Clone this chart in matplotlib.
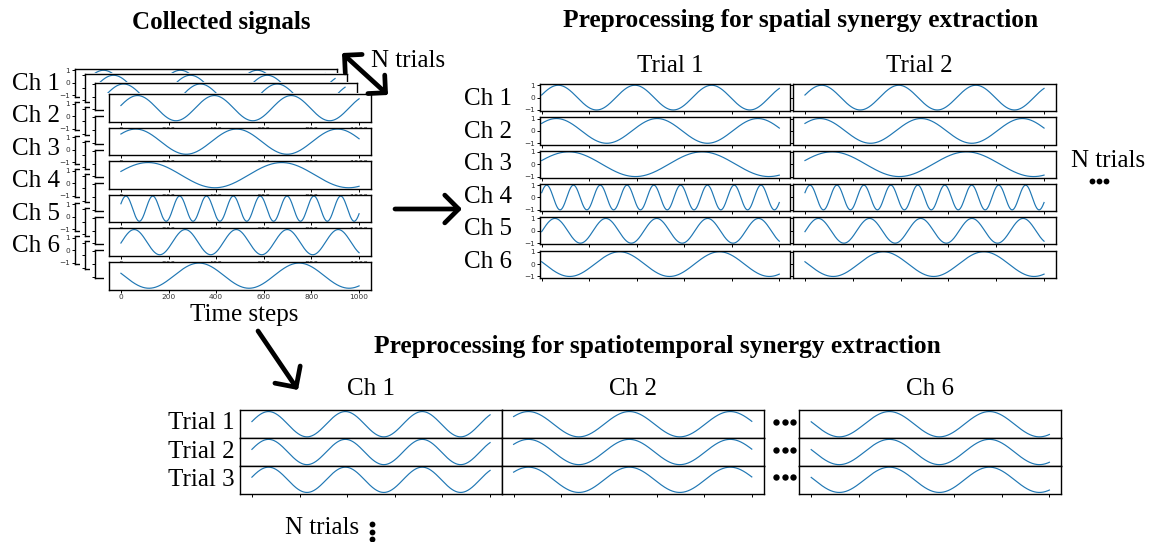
import numpy as np
import matplotlib

matplotlib.use("Agg")
import matplotlib.pyplot as plt
from matplotlib.lines import Line2D
from matplotlib.patches import FancyArrowPatch, Rectangle

W, H = 1153, 542
SERIF = "Liberation Serif"
BLUE = "#1f77b4"

# synthetic recordings: one sine per channel, 1000 time steps
CHANNELS = ["Ch 1", "Ch 2", "Ch 3", "Ch 4", "Ch 5", "Ch 6"]
CYCLES = [3.1, 2.36, 1.78, 8.87, 4.67, 2.38]  # periods per 1000 steps
PHASES = [0.21, 0.65, 0.3, 0.4, -0.07, 2.95]  # rad at step 0
STEPS = np.arange(0, 1001)
TIME_TICKS = [0, 200, 400, 600, 800, 1000]
AMP_TICKS = [-1, 0, 1]

TRIALS = ["Trial 1", "Trial 2"]
TRIAL_ROWS = ["Trial 1", "Trial 2", "Trial 3"]
CONCAT_CHANNELS = [0, 1, 5]  # Ch 1, Ch 2, ..., Ch 6


def signal(ch):
    return np.sin(2 * np.pi * CYCLES[ch] * STEPS / 1000 + PHASES[ch])


fig = plt.figure(figsize=(W / 100, H / 100), dpi=100)


def rect(left, top, width, height):
    return [left / W, 1 - (top + height) / H, width / W, height / H]


def fx(x):
    return x / W


def fy(y):
    return 1 - y / H


def signal_axes(box, ch, z, xlim=(-50, 1050), ylabels=False, xlabels=False, yticks=True):
    ax = fig.add_axes(rect(*box))
    ax.set_zorder(z)
    ax.plot(STEPS, signal(ch), color=BLUE, lw=0.85)
    ax.set_xlim(*xlim)
    ax.set_ylim(-1.1, 1.1)
    ax.set_xticks(TIME_TICKS)
    ax.set_yticks(AMP_TICKS if yticks else [])
    ax.tick_params(length=2.5, width=0.7, labelsize=5.3, pad=1, labelcolor="#333")
    if not xlabels:
        ax.set_xticklabels([])
    if not ylabels:
        ax.set_yticklabels([])
    for spine in ax.spines.values():
        spine.set_linewidth(1.0)
    return ax


def cover(left, top, width, height, z):
    fig.add_artist(Rectangle((fx(left), fy(top + height)), width / W, height / H,
                             transform=fig.transFigure, facecolor="white",
                             edgecolor="none", zorder=z))


def label(x, y, s, size=18, **kw):
    kw.setdefault("ha", "center")
    fig.text(fx(x), fy(y), s, family=SERIF, size=size, va="center", **kw)


def dots(xs, ys, ms=3.6):
    fig.add_artist(Line2D([fx(x) for x in xs], [fy(y) for y in ys],
                          transform=fig.transFigure, ls="none", marker="o",
                          ms=ms, mew=0, color="black", zorder=50))


def arrow(start, end, style="->", lw=3.4, head=0.45):
    fig.add_artist(FancyArrowPatch((fx(start[0]), fy(start[1])), (fx(end[0]), fy(end[1])),
                                   transform=fig.transFigure,
                                   arrowstyle=f"{style},head_length={head},head_width={head}",
                                   mutation_scale=20, lw=lw, color="black",
                                   shrinkA=0, shrinkB=0, zorder=60))


# collected signals: several trials stacked on top of each other
stack_w, row_h, row_step = 262, 27.7, 33.5
stack_origins = [(75, 69), (85, 74), (95, 82.7), (109, 94.3)]
for p, (left, top) in enumerate(stack_origins):
    base = 10 * (p + 1)
    front = p == len(stack_origins) - 1
    cover(left - 5, top - 1, stack_w + 5, 5 * row_step + row_h + 2, base)
    for r in range(6):
        signal_axes((left, top + r * row_step, stack_w, row_h), r, base + 1 + 0.1 * r,
                    ylabels=(p == 0), xlabels=front, yticks=not front)

label(221, 22, "Collected signals", weight="bold")
for r, name in enumerate(CHANNELS):
    label(60, 83.5 + r * 32.6, name, ha="right")
label(244, 315, "Time steps")
label(408, 61, "N trials")
arrow((342, 53), (388, 95), style="<->", head=0.45)

# spatial synergy layout: trials side by side, channels as rows
arrow((395, 209), (462, 209), head=0.5)
label(801, 20, "Preprocessing for spatial synergy extraction", weight="bold", size=18.3)
trial_boxes = [(540, 250, (-7, 1045)), (793, 263, (-50, 1050))]
for t, (left, width, xlim) in enumerate(trial_boxes):
    for r in range(6):
        signal_axes((left, 84 + r * 33.3, width, 27.2), r, 100 + t + 0.1 * r,
                    xlim=xlim, ylabels=(t == 0))
    label(left + width / 2 + (10 if t == 0 else 0) - 5, 66, TRIALS[t])
for r, name in enumerate(CHANNELS):
    label(512, 99 + r * 32.6, name, ha="right")
label(1108, 161, "N trials")
dots([1091.5, 1098.5, 1105.5], [181, 181, 181], ms=4.2)

# spatiotemporal layout: channels side by side, trials as rows
arrow((258, 331), (298, 390), head=0.55)
label(657, 347, "Preprocessing for spatiotemporal synergy extraction", weight="bold", size=18.3)
block_lefts = [240, 501.7, 799.3]
for b, left in enumerate(block_lefts):
    for r in range(len(TRIAL_ROWS)):
        signal_axes((left, 410.3 + r * 27.8, 262, 27.8), CONCAT_CHANNELS[b],
                    200 + b + 0.1 * r, yticks=False)
    label(left + 131, 389, CHANNELS[CONCAT_CHANNELS[b]])
for r, name in enumerate(TRIAL_ROWS):
    label(235, 423 + r * 28.5, name, ha="right")
for r in range(3):
    dots([776, 784.5, 793], [421.7 + r * 27.8] * 3, ms=4.6)
label(322, 528, "N trials")
dots([372, 372, 372], [524, 531.5, 539], ms=4.2)

fig.savefig("out.png", dpi=100)
